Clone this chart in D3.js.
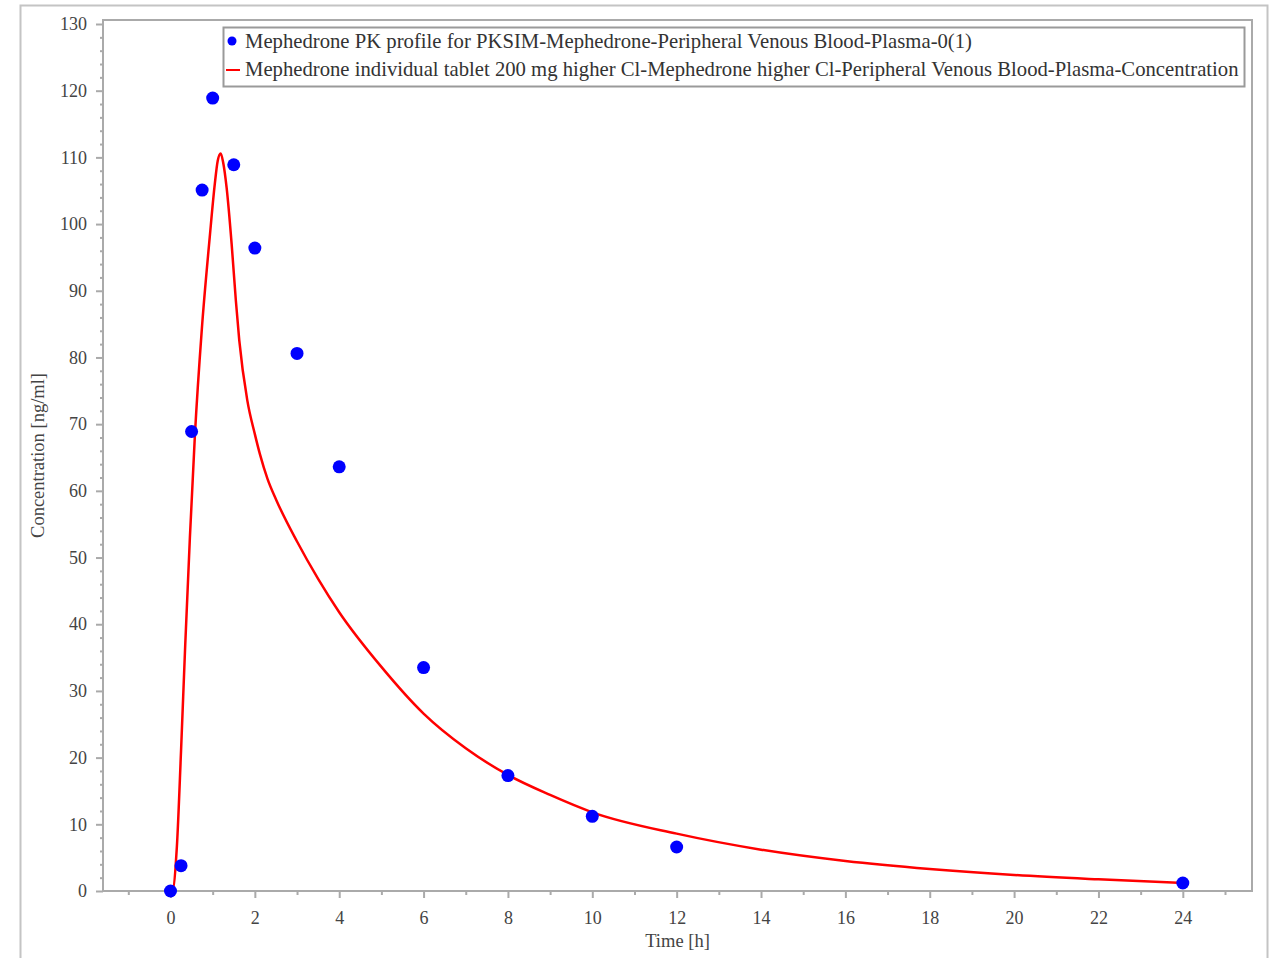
<!DOCTYPE html>
<html>
<head>
<meta charset="utf-8">
<script src="https://cdn.jsdelivr.net/npm/d3@7"></script>
<style>
  body { margin: 0; background: #fff; }
  svg { display: block; font-family: "Liberation Serif", "DejaVu Serif", serif; }
</style>
</head>
<body>
<script>
// observed data (blue dots)
var obsTime = [0, 0.25, 0.5, 0.75, 1, 1.5, 2, 3, 4, 6, 8, 10, 12, 24];
var obsConc = [0, 3.8, 68.9, 105.1, 118.9, 108.9, 96.4, 80.6, 63.6, 33.5, 17.3, 11.2, 6.6, 1.2];

// simulated curve (red line)
var simTime = [0, 0.04, 0.15, 0.25, 0.35, 0.46, 0.58, 0.74, 0.93, 1.05, 1.12, 1.19, 1.25, 1.33, 1.45, 1.55, 1.63, 1.82, 2.0, 2.12, 2.3, 2.51, 3.0, 3.5, 4, 5, 6, 7, 8, 9, 10, 12, 14, 16, 18, 20, 22, 24];
var simConc = [0, 0, 6.5, 21, 37, 53, 68.5, 84, 98, 106, 109.5, 110.6, 109.2, 105.5, 97, 88.5, 82.6, 73.6, 68.5, 65.5, 61.8, 58.6, 52.4, 46.8, 41.8, 33.6, 26.6, 21.4, 17.4, 14.4, 11.8, 8.6, 6.2, 4.5, 3.3, 2.4, 1.75, 1.2];

var xTicks = [0, 2, 4, 6, 8, 10, 12, 14, 16, 18, 20, 22, 24];
var xMinor = [-1, 1, 3, 5, 7, 9, 11, 13, 15, 17, 19, 21, 23, 25];
var yTicks = d3.range(0, 131, 10);
var yMinor = d3.range(0, 131, 2).filter(function (d) { return d % 10 !== 0; });

var legendLabels = [
  "Mephedrone PK profile for PKSIM-Mephedrone-Peripheral Venous Blood-Plasma-0(1)",
  "Mephedrone individual tablet 200 mg higher Cl-Mephedrone higher Cl-Peripheral Venous Blood-Plasma-Concentration"
];

var W = 1273, H = 958;
var plot = { left: 103, right: 1252, top: 20, bottom: 891 };

var svg = d3.select("body").append("svg")
  .attr("width", W)
  .attr("height", H);

// outer frame
svg.append("rect")
  .attr("x", 20.5).attr("y", 5.5)
  .attr("width", 1247).attr("height", 970)
  .attr("fill", "none")
  .attr("stroke", "#c4c4c4")
  .attr("stroke-width", 2);

var x = d3.scaleLinear().domain([-1.6, 25.64]).range([plot.left, plot.right]);
var y = d3.scaleLinear().domain([0, 130.6]).range([plot.bottom, plot.top]);

// plot frame
svg.append("rect")
  .attr("x", plot.left).attr("y", plot.top)
  .attr("width", plot.right - plot.left).attr("height", plot.bottom - plot.top)
  .attr("fill", "none")
  .attr("stroke", "#aaaaaa")
  .attr("stroke-width", 2);

// x axis
var gx = svg.append("g").attr("transform", "translate(0," + plot.bottom + ")");
gx.append("g").call(d3.axisBottom(x).tickValues(xMinor).tickSize(4).tickFormat(""));
gx.append("g").call(d3.axisBottom(x).tickValues(xTicks).tickSize(7).tickPadding(13).tickFormat(d3.format("d")));
gx.selectAll(".domain").remove();
gx.selectAll("line").attr("stroke", "#aaaaaa").attr("stroke-width", 2);
gx.selectAll("text").attr("fill", "#444").style("font-size", "18px")
  .style("font-family", "'Liberation Serif', serif");

// y axis
var gy = svg.append("g").attr("transform", "translate(" + plot.left + ",0)");
gy.append("g").call(d3.axisLeft(y).tickValues(yMinor).tickSize(3).tickFormat(""));
gy.append("g").call(d3.axisLeft(y).tickValues(yTicks).tickSize(7).tickPadding(9).tickFormat(d3.format("d")));
gy.selectAll(".domain").remove();
gy.selectAll("line").attr("stroke", "#aaaaaa").attr("stroke-width", 2);
gy.selectAll("text").attr("fill", "#444").style("font-size", "18px")
  .style("font-family", "'Liberation Serif', serif");

// axis titles
svg.append("text")
  .attr("x", (plot.left + plot.right) / 2).attr("y", 947)
  .attr("text-anchor", "middle")
  .attr("fill", "#444")
  .style("font-size", "18.5px")
  .text("Time [h]");

svg.append("text")
  .attr("transform", "translate(44," + ((plot.top + plot.bottom) / 2) + ") rotate(-90)")
  .attr("text-anchor", "middle")
  .attr("fill", "#444")
  .style("font-size", "18.5px")
  .text("Concentration [ng/ml]");

// simulated line
var simData = simTime.map(function (t, i) { return { t: t, v: simConc[i] }; });
var line = d3.line()
  .x(function (d) { return x(d.t); })
  .y(function (d) { return y(d.v); })
  .curve(d3.curveMonotoneX);

svg.append("path")
  .datum(simData)
  .attr("d", line)
  .attr("fill", "none")
  .attr("stroke", "#ff0000")
  .attr("stroke-width", 2.5);

// observed points
var obsData = obsTime.map(function (t, i) { return { t: t, v: obsConc[i] }; });
svg.append("g").selectAll("circle")
  .data(obsData)
  .enter().append("circle")
  .attr("cx", function (d) { return x(d.t); })
  .attr("cy", function (d) { return y(d.v); })
  .attr("r", 6.5)
  .attr("fill", "#0000ff");

// legend
var lg = svg.append("g");
lg.append("rect")
  .attr("x", 223.5).attr("y", 27.5)
  .attr("width", 1021).attr("height", 59)
  .attr("fill", "#fff")
  .attr("stroke", "#9a9a9a")
  .attr("stroke-width", 2);

lg.append("circle").attr("cx", 232).attr("cy", 41).attr("r", 4.5).attr("fill", "#0000ff");
lg.append("line").attr("x1", 226).attr("x2", 240).attr("y1", 70).attr("y2", 70)
  .attr("stroke", "#ff0000").attr("stroke-width", 2);

lg.selectAll("text.leg")
  .data(legendLabels)
  .enter().append("text")
  .attr("class", "leg")
  .attr("x", 245)
  .attr("y", function (d, i) { return 48 + i * 28; })
  .attr("fill", "#333")
  .style("font-size", "20.7px")
  .text(function (d) { return d; });
</script>
</body>
</html>
